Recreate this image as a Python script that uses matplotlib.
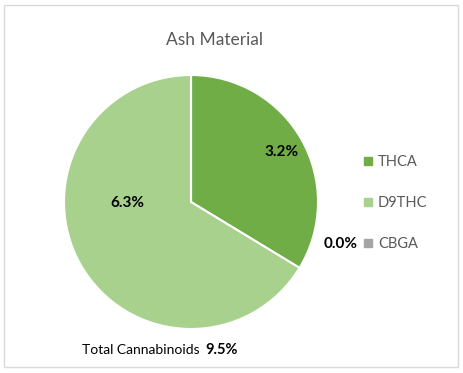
import matplotlib
matplotlib.use("Agg")
import matplotlib.pyplot as plt
from matplotlib.lines import Line2D
from matplotlib.patches import Rectangle

# data
labels = ['THCA', 'D9THC', 'CBGA']
values = [3.2, 6.3, 0.0]
colors = ['#70AD47', '#A9D18E', '#A5A5A5']
total = 9.5

plt.rcParams['font.family'] = ['Lato', 'DejaVu Sans']

W, H = 463, 373
fig = plt.figure(figsize=(W / 100, H / 100), dpi=100)

# light frame around the chart area
fig.patches.append(Rectangle((4 / W, 6 / H), 454 / W, 362 / H, transform=fig.transFigure,
                             fill=False, edgecolor='#D9D9D9', linewidth=1))

# pie centre at (191, 202) px, radius 127 px
cx, cy, r = 191, 202, 127
ax = fig.add_axes([(cx - r) / W, (H - cy - r) / H, 2 * r / W, 2 * r / H])
wedges, _ = ax.pie(values, colors=colors, startangle=90, counterclock=False,
                   wedgeprops=dict(edgecolor='white', linewidth=1.5))
ax.set_xlim(-1, 1)
ax.set_ylim(-1, 1)
ax.axis('off')

# data labels (Excel places them on its own)
label_pos = [(0.71, 0.39), (-0.50, -0.01), (1.18, -0.33)]
for v, (x, y) in zip(values, label_pos):
    ax.text(x, y, f'{v:.1f}%', ha='center', va='center', fontsize=11,
            fontweight='bold', color='black')

fig.text(215 / W, 1 - 40 / H, 'Ash Material', ha='center', va='center',
         fontsize=12.5, color='#595959')

handles = [Line2D([], [], marker='s', linestyle='none', markersize=6,
                  markerfacecolor=c, markeredgecolor=c) for c in colors]
fig.legend(handles, labels, loc='center left', bbox_to_anchor=(362 / W, 1 - 203 / H),
           frameon=False, fontsize=10.5, labelcolor='#595959', handlelength=0.8,
           handletextpad=0.3, labelspacing=1.86, borderpad=0, borderaxespad=0)

fig.text(82 / W, 1 - 350 / H, 'Total Cannabinoids', ha='left', va='center',
         fontsize=10, color='black')
fig.text(205 / W, 1 - 350 / H, f'{total:.1f}%', ha='left', va='center',
         fontsize=10.5, fontweight='bold', color='black')

fig.savefig('out.png', dpi=100)
